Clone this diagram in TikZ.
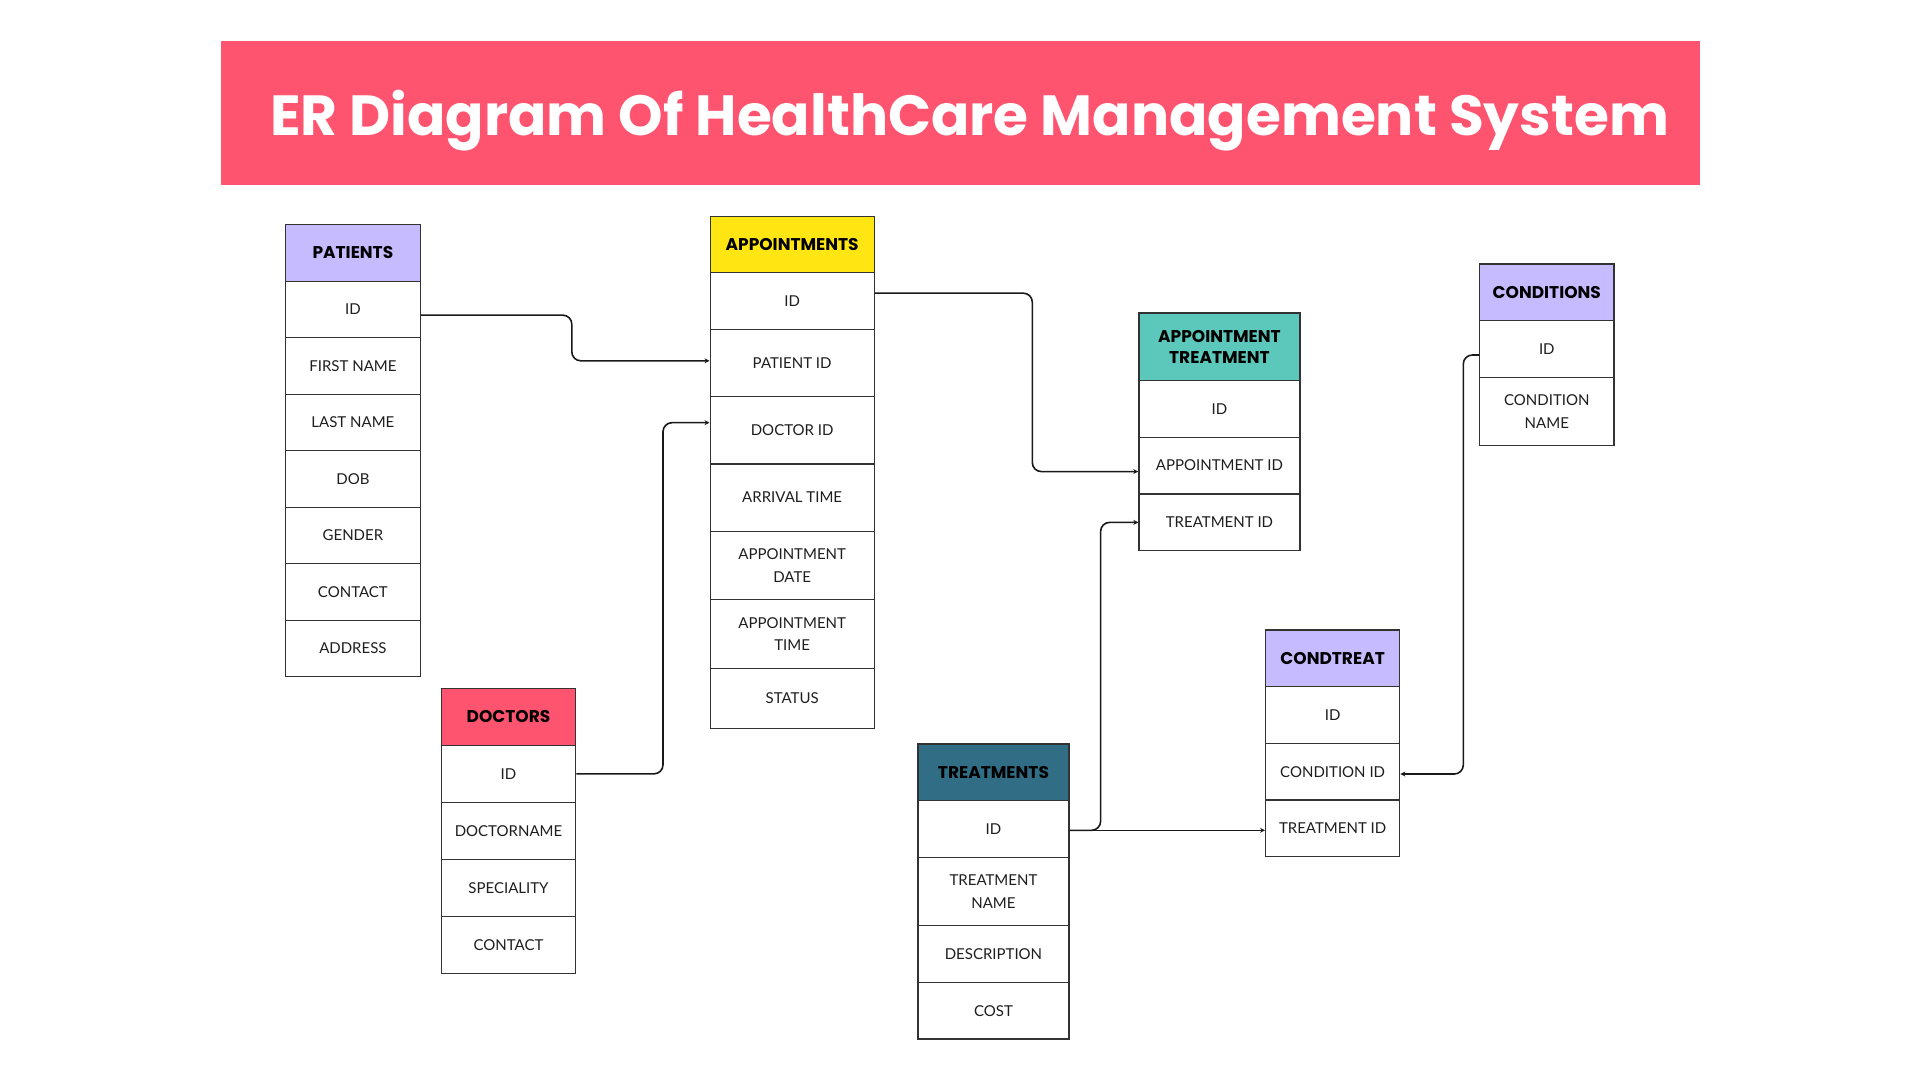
\documentclass[tikz,border=0pt]{standalone}
\usepackage{fontspec}
\setmainfont{Lato}
\newfontfamily\headfont{Poppins}
\usetikzlibrary{arrows.meta,calc}
\definecolor{banner}{HTML}{FF5470}
\definecolor{lav}{HTML}{C6BBFF}
\definecolor{yel}{HTML}{FFE512}
\definecolor{tealA}{HTML}{5BC8BB}
\definecolor{tealB}{HTML}{316E86}
\definecolor{linec}{HTML}{333333}
\definecolor{txt}{HTML}{1E1E1E}
\newcommand\erc[7]{\node[#1, minimum width=#5pt, minimum height=#6pt, anchor=north west] (#2) at (#3,#4) {#7};}
\begin{document}
\begin{tikzpicture}[x=1pt,y=-1pt,
 cellbox/.style={draw=linec, line width=1.3pt, fill=white, inner sep=0pt, align=center, text=txt, font=\fontsize{15}{22.5}\selectfont},
 headbox/.style={cellbox, text=black, font=\headfont\bfseries\fontsize{17}{21}\selectfont},
 conn/.style={draw=black!90, line width=1.6pt, rounded corners=9pt, -{Stealth[length=5pt,width=5pt]}},
]
\useasboundingbox[fill=white] (0,0) rectangle (1920,1080);
% banner
\node[fill=banner, inner sep=0pt, minimum width=1479.2pt, minimum height=144.5pt, anchor=north west] (banner) at (220.4,40.4) {};
\node[text=white, font=\headfont\bfseries\fontsize{56.6}{68}\selectfont, anchor=center] (title) at (969.5,120.5) {ER Diagram Of HealthCare Management System};
% PATIENTS
\erc{headbox,fill=lav}{pat-h}{285}{223.5}{134.5}{57}{PATIENTS}
\erc{cellbox}{pat-id}{285}{280.5}{134.5}{56.5}{ID}
\erc{cellbox}{pat-fn}{285}{337}{134.5}{56.5}{FIRST NAME}
\erc{cellbox}{pat-ln}{285}{393.5}{134.5}{56.5}{LAST NAME}
\erc{cellbox}{pat-dob}{285}{450}{134.5}{56.5}{DOB}
\erc{cellbox}{pat-gen}{285}{506.5}{134.5}{56.5}{GENDER}
\erc{cellbox}{pat-con}{285}{563}{134.5}{56.5}{CONTACT}
\erc{cellbox}{pat-adr}{285}{619.5}{134.5}{56.5}{ADDRESS}
% APPOINTMENTS
\erc{headbox,fill=yel}{apt-h}{709.5}{215.5}{164}{56.5}{APPOINTMENTS}
\erc{cellbox}{apt-id}{709.5}{272}{164}{56.5}{ID}
\erc{cellbox}{apt-pid}{709.5}{328.5}{164}{67.3}{PATIENT ID}
\erc{cellbox}{apt-doc}{709.5}{395.8}{164}{67.4}{DOCTOR ID}
\erc{cellbox}{apt-arr}{709.5}{463.2}{164}{67.3}{ARRIVAL TIME}
\erc{cellbox}{apt-date}{709.5}{530.5}{164}{68.6}{APPOINTMENT\\DATE}
\erc{cellbox}{apt-time}{709.5}{599.1}{164}{68.5}{APPOINTMENT\\TIME}
\erc{cellbox}{apt-st}{709.5}{667.6}{164}{60}{STATUS}
% DOCTORS
\erc{headbox,fill=banner}{doc-h}{440.7}{687.7}{134.3}{57}{DOCTORS}
\erc{cellbox}{doc-id}{440.7}{744.7}{134.3}{57}{ID}
\erc{cellbox}{doc-nm}{440.7}{801.7}{134.3}{57}{DOCTORNAME}
\erc{cellbox}{doc-sp}{440.7}{858.7}{134.3}{57}{SPECIALITY}
\erc{cellbox}{doc-con}{440.7}{915.7}{134.3}{57}{CONTACT}
% APPOINTMENT TREATMENT
\erc{headbox,fill=tealA}{at-h}{1138.3}{312.3}{161}{67.4}{APPOINTMENT\\TREATMENT}
\erc{cellbox}{at-id}{1138.3}{379.7}{161}{56.8}{ID}
\erc{cellbox}{at-aid}{1138.3}{436.5}{161}{56.8}{APPOINTMENT ID}
\erc{cellbox}{at-tid}{1138.3}{493.3}{161}{56.8}{TREATMENT ID}
% CONDITIONS
\erc{headbox,fill=lav}{cond-h}{1479}{263.3}{134.3}{56.7}{CONDITIONS}
\erc{cellbox}{cond-id}{1479}{320}{134.3}{56.7}{ID}
\erc{cellbox}{cond-nm}{1479}{376.7}{134.3}{68.3}{CONDITION\\NAME}
% TREATMENTS
\erc{headbox,fill=tealB}{tr-h}{917.3}{743.3}{151}{56.7}{TREATMENTS}
\erc{cellbox}{tr-id}{917.3}{800}{151}{56.7}{ID}
\erc{cellbox}{tr-nm}{917.3}{856.7}{151}{68.3}{TREATMENT\\NAME}
\erc{cellbox}{tr-desc}{917.3}{925}{151}{56.7}{DESCRIPTION}
\erc{cellbox}{tr-cost}{917.3}{981.7}{151}{56.7}{COST}
% CONDTREAT
\erc{headbox,fill=lav}{ct-h}{1265}{629.3}{134}{56.6}{CONDTREAT}
\erc{cellbox}{ct-id}{1265}{685.9}{134}{56.8}{ID}
\erc{cellbox}{ct-cid}{1265}{742.7}{134}{56.7}{CONDITION ID}
\erc{cellbox}{ct-tid}{1265}{799.4}{134}{56.6}{TREATMENT ID}
% connectors
\draw[conn] ($(pat-id.east)+(0,5.75)$) -- ++(151,0) |- ($(apt-pid.west)+(0,-2)$);
\draw[conn] (doc-id.east) -- ++(86.7,0) |- ($(apt-doc.west)+(0,-7.5)$);
\draw[conn] ($(apt-id.east)+(0,-7.75)$) -- ++(157.5,0) |- ($(at-aid.west)+(0,6)$);
\draw[conn] ($(tr-id.east)+(0,1.3)$) -- ++(31,0) |- (at-tid.west);
\draw[conn] ($(tr-id.east)+(0,1.3)$) -- ($(tr-id.east -| ct-tid.west)+(0,1.3)$);
\draw[conn] ($(cond-id.west)+(0,6)$) -- ++(-15.7,0) |- ($(ct-cid.east)+(0,2.3)$);
\end{tikzpicture}
\end{document}
